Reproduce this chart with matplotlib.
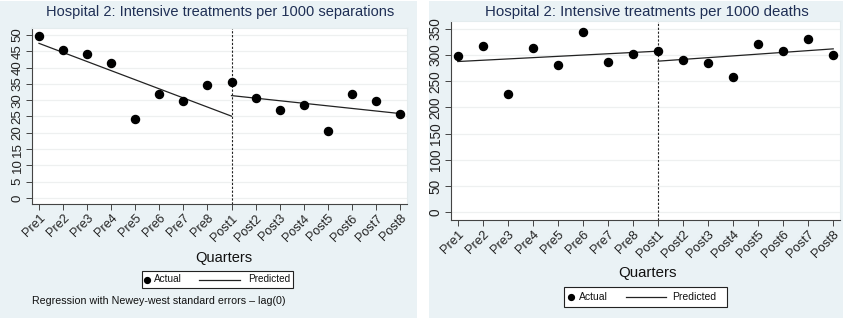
import matplotlib
matplotlib.use("Agg")
import matplotlib.pyplot as plt
from matplotlib.patches import Rectangle
from matplotlib.lines import Line2D

plt.rcParams['font.family'] = ['Liberation Sans', 'DejaVu Sans']

quarters = ['Pre1', 'Pre2', 'Pre3', 'Pre4', 'Pre5', 'Pre6', 'Pre7', 'Pre8',
            'Post1', 'Post2', 'Post3', 'Post4', 'Post5', 'Post6', 'Post7', 'Post8']
x_pos = list(range(1, 17))

# left panel: per 1000 separations
sep_actual = [49.5, 45.3, 44.1, 41.3, 24.2, 32.0, 29.7, 34.7,
              35.6, 30.8, 26.9, 28.4, 20.5, 31.8, 29.6, 25.9]
sep_pred_pre_x = [1, 9]
sep_pred_pre = [47.4, 25.1]
sep_pred_post_x = [9, 16]
sep_pred_post = [31.4, 25.9]

# right panel: per 1000 deaths
death_actual = [298.5, 316.9, 225.9, 313.7, 280.6, 344.9, 286.4, 301.6,
                307.4, 290.8, 284.5, 257.7, 321.4, 308.6, 330.9, 299.2]
death_pred_pre_x = [1, 9]
death_pred_pre = [287.6, 307.4]
death_pred_post_x = [9, 16]
death_pred_post = [288.3, 311.8]

W, H = 846, 318
bg = '#eaf2f5'
title_col = '#1f2f55'

fig = plt.figure(figsize=(W / 100, H / 100), dpi=100)
fig.patch.set_facecolor('white')
fig.patches.append(Rectangle((0, 0), 417 / W, 317 / H, transform=fig.transFigure,
                             facecolor=bg, edgecolor='none', zorder=-10))
fig.patches.append(Rectangle((429 / W, 0), 414 / W, 317 / H, transform=fig.transFigure,
                             facecolor=bg, edgecolor='none', zorder=-10))


def fx(px):
    return px / W


def fy(py):
    return 1 - py / H


def legend_box(box, mark_x, act_x, line_x0, line_x1, pred_x, fs):
    l, t, r, b = box
    yc = (t + b) / 2
    fig.patches.append(Rectangle((fx(l), fy(b)), (r - l) / W, (b - t) / H,
                                 transform=fig.transFigure, facecolor='white',
                                 edgecolor='#222222', lw=0.8))
    fig.lines.append(Line2D([fx(mark_x)], [fy(yc)], marker='o', ls='none',
                            color='black', markersize=4.2, transform=fig.transFigure))
    fig.lines.append(Line2D([fx(line_x0), fx(line_x1)], [fy(yc), fy(yc)],
                            color='#222222', lw=0.9, transform=fig.transFigure))
    fig.text(fx(act_x), fy(yc), 'Actual', ha='left', va='center', fontsize=fs,
             color='#111111')
    fig.text(fx(pred_x), fy(yc), 'Predicted', ha='left', va='center', fontsize=fs,
             color='#111111')


def make_panel(box, actual, pre_x, pre, post_x, post, yticks, ylim, xlim, title,
               title_xy, xlab_xy, fs=1.0):
    l, t, r, b = box
    ax = fig.add_axes([fx(l), fy(b), (r - l) / W, (b - t) / H])
    ax.set_facecolor('white')
    ax.plot(x_pos, actual, 'o', color='black', markersize=5.8, zorder=3)
    ax.plot(pre_x, pre, '-', color='#222222', lw=0.9, zorder=2)
    ax.plot(post_x, post, '-', color='#222222', lw=0.9, zorder=2)
    ax.axvline(9, color='#222222', lw=0.8, ls=(0, (2, 1.5)), zorder=2)
    ax.set_xlim(*xlim)
    ax.set_ylim(*ylim)
    ax.set_yticks(yticks)
    ax.set_yticklabels([str(v) for v in yticks], rotation=90, va='center',
                       fontsize=9.5 * fs, color='#222222')
    ax.set_xticks(x_pos)
    ax.set_xticklabels(quarters, rotation=45, ha='right', rotation_mode='anchor',
                       fontsize=9 * fs, color='#222222')
    ax.grid(axis='y', color='#eef0f0', lw=0.9)
    ax.set_axisbelow(True)
    for s in ['top', 'right']:
        ax.spines[s].set_color('#e4ecee')
    for s in ['left', 'bottom']:
        ax.spines[s].set_color('#444444')
        ax.spines[s].set_linewidth(0.8)
    ax.tick_params(length=4, width=0.7, color='#444444', pad=2)
    fig.text(fx(title_xy[0]), fy(title_xy[1]), title, ha='center', va='center',
             fontsize=10.5 * fs, color=title_col)
    fig.text(fx(xlab_xy[0]), fy(xlab_xy[1]), 'Quarters', ha='center', va='center',
             fontsize=10.5 * fs, color='#111111')
    return ax


make_panel((32, 28, 407, 204), sep_actual, sep_pred_pre_x, sep_pred_pre,
           sep_pred_post_x, sep_pred_post, list(range(0, 55, 5)), (-1.8, 52.1),
           (0.71, 16.29), 'Hospital 2: Intensive treatments per 1000 separations',
           (220, 12), (224, 258))
legend_box((142, 271, 293, 288), 147, 154, 199, 240, 248, 7.2)

make_panel((451, 21, 840, 220), death_actual, death_pred_pre_x, death_pred_pre,
           death_pred_post_x, death_pred_post, list(range(0, 400, 50)), (-15, 365),
           (0.73, 16.27), 'Hospital 2: Intensive treatments per 1000 deaths',
           (647, 12), (647, 273), fs=1.03)
legend_box((564, 287, 727, 307), 571, 579, 626, 666, 672, 7.5)

fig.text(fx(32), fy(301), 'Regression with Newey-west standard errors \u2013 lag(0)',
         ha='left', va='center', fontsize=7.7, color='#111111')

fig.savefig('out.png', dpi=100)
